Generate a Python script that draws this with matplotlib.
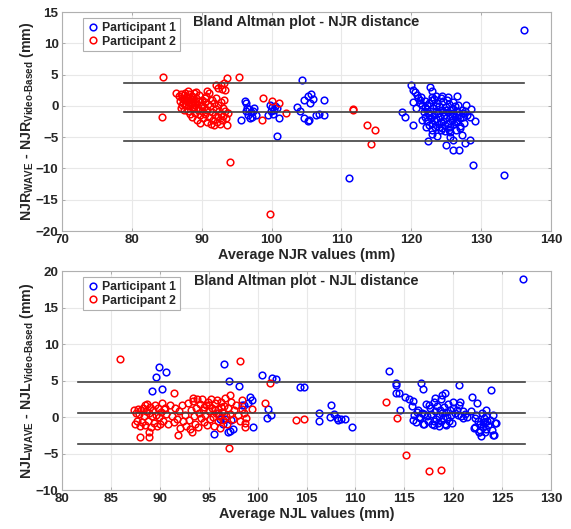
import matplotlib
matplotlib.use("Agg")
import matplotlib.pyplot as plt
import numpy as np

plt.rcParams['font.family'] = ['Liberation Sans', 'DejaVu Sans']
plt.rcParams['font.weight'] = 'bold'
plt.rcParams['mathtext.fontset'] = 'custom'
plt.rcParams['mathtext.rm'] = 'Liberation Sans:bold'
plt.rcParams['mathtext.it'] = 'Liberation Sans:bold'
plt.rcParams['mathtext.bf'] = 'Liberation Sans:bold'
plt.rcParams['text.color'] = '#262626'
plt.rcParams['axes.labelcolor'] = '#262626'
plt.rcParams['xtick.labelcolor'] = '#262626'
plt.rcParams['ytick.labelcolor'] = '#262626'

# ---------------- NJR (top) ----------------
njr_p1_x = [95.6, 96.2, 96.3, 96.5, 96.8, 97.0, 96.6, 97.2, 97.5, 97.8, 96.9, 97.3, 96.4,
            99.8, 100.0, 100.3, 100.5, 100.8, 99.5, 100.2, 101.0, 100.8, 99.9,
            104.3, 103.6, 104.0, 104.6, 105.2, 105.7, 106.0, 105.5, 104.6, 105.2, 105.4,
            106.4, 106.8, 107.5, 107.5, 111.1,
            120.0, 120.2, 120.5, 120.8, 121.0, 121.2, 121.4, 121.3, 121.6, 120.3, 120.7,
            121.9, 122.0, 122.7, 122.9, 126.6,
            121.8, 122.0, 122.2, 122.3, 122.4, 122.5, 122.6, 122.7, 122.8, 122.9, 123.0,
            123.1, 123.2, 123.3, 123.4, 123.5, 123.6, 123.7, 123.8, 123.9, 124.0, 124.1,
            124.2, 124.3, 124.4, 124.5, 124.6, 124.7, 124.8, 124.9, 125.0, 125.1, 125.2,
            125.3, 125.4, 125.5, 125.6, 125.7, 125.8, 125.9, 126.0, 126.1, 126.2, 126.3,
            126.4, 126.5, 126.6, 126.7, 126.8, 127.0, 127.2, 127.4, 123.0, 123.6, 124.4,
            125.3, 122.3, 122.5, 123.3, 124.0, 124.8, 125.6, 126.4, 127.0, 123.5, 124.6,
            125.8, 122.9, 124.2, 125.0, 126.0, 127.6, 128.0, 121.5, 122.1, 127.4,
            118.7, 119.1, 120.3, 122.4, 124.9, 126.0, 126.8, 126.0, 127.3, 127.7, 128.4,
            127.8, 127.7, 128.5, 128.4, 129.1, 128.8, 133.3, 136.1, 123.0, 123.7, 124.4,
            125.4, 125.5, 126.9]
njr_p1_y = [-2.2, 0.7, 0.4, -0.3, -0.5, -1.0, -1.4, -1.8, -0.4, -1.5, -1.9, -0.8, -0.8,
            0.1, -0.2, -0.6, 0.0, -0.4, -1.4, -1.3, -2.0, -4.8, -0.9,
            4.1, -0.2, -0.8, 0.95, 1.5, 1.9, 1.05, 0.4, -2.0, -2.4, -2.2,
            -1.45, -1.3, -1.45, 0.95, -11.5,
            3.3, 2.6, 2.2, 1.8, 1.3, 0.9, 1.4, 0.5, 0.1, 0.6, -0.3,
            -0.2, 0.8, 3.0, 2.3, 1.6,
            -1.0, -1.8, -0.5, -2.4, -1.2, 0.4, -3.0, -0.9, -1.9, 0.9, -2.7,
            -0.3, -1.5, 1.1, -3.4, -0.8, -2.1, 0.5, -1.2, -2.9, 0.0, -1.8,
            1.2, -3.8, -0.6, -2.4, 0.7, -1.4, -3.1, -0.2, -2.0, 1.0, -1.0,
            -2.7, 0.3, -1.6, -3.3, -0.5, -2.2, 0.6, -1.2, -2.9, -0.1, -1.8,
            -3.8, -0.8, -2.4, 0.2, -1.4, -2.0, -0.6, -1.2, 1.4, 1.5, 1.5,
            1.4, 0.2, -1.5, -2.2, -3.3, -4.0, -4.2, -2.6, -3.2, 0.0, -1.0,
            -1.6, -3.8, -2.6, -0.6, -0.5, -2.8, -1.5, -2.2, -3.3, -1.8,
            -1.0, -1.7, -3.1, -5.6, -6.25, -7.0, -7.0, -5.45, -4.65, -6.0, -5.45,
            0.1, -0.9, -0.55, -1.7, -2.4, -9.5, -11.1, 12.1, -4.5, -4.75, -3.6,
            -3.9, -4.9, -3.6]

njr_p2_x = [86.3, 86.8, 86.9, 87.0, 87.1, 87.2, 87.3, 87.4, 87.5, 87.6, 87.7, 87.8, 87.9,
            88.0, 88.0, 88.1, 88.2, 88.3, 88.4, 88.5, 88.6, 88.6, 88.7, 88.8, 88.9, 89.0,
            89.1, 89.2, 89.3, 89.4, 89.5, 89.6, 89.7, 89.8, 89.9, 90.0, 90.1, 90.2, 90.3,
            90.4, 90.5, 90.6, 90.7, 90.8, 90.9, 91.0, 91.1, 91.2, 91.3, 91.4, 91.5, 91.6,
            91.7, 91.8, 91.9, 92.0, 92.1, 92.2, 92.3, 92.4, 92.5, 92.6, 92.7, 92.8, 92.9,
            93.0, 93.1, 93.2, 93.4, 93.5, 93.6, 93.7,
            87.5, 88.3, 88.9, 89.5, 90.0, 89.0, 88.0, 87.2, 89.2, 90.7, 90.4,
            92.0, 92.4, 92.8, 93.2, 93.6, 93.4, 92.9,
            84.5, 84.3, 94.1, 99.8, 95.4, 98.8, 100.1, 101.0, 102.1, 98.6,
            111.6, 111.7, 113.7, 114.8, 114.2]
njr_p2_y = [2.1, 1.5, 0.8, 1.9, -0.3, 1.2, 0.4, 1.7, -0.6, 2.0, 0.9, 0.1, 1.4,
            2.3, -0.9, 0.6, 1.9, -1.3, 1.1, 0.3, -1.8, 1.6, -0.4, 0.8, 2.0, -1.1,
            0.1, 1.3, -2.2, -0.6, 0.7, 1.8, -1.5, -2.8, 0.2, -0.9, 1.0, -2.0, -0.2,
            0.6, -1.3, 1.6, -2.5, -0.6, 0.3, 2.1, -1.7, -0.1, -2.9, 0.9, -1.0, -2.2,
            0.4, -3.0, -1.4, 1.3, -0.5, -2.6, 0.1, -1.8, -0.9, -2.9, 0.6, -1.3, -2.3,
            -0.4, -1.6, 1.0, -0.8, -2.0, -3.1, -1.2,
            1.0, 0.0, -0.2, -0.4, 0.0, 0.6, 1.3, 0.2, 2.2, 2.3, 1.2,
            3.3, 2.9, 3.4, 3.6, 4.4, 2.5, 2.7,
            4.6, -1.8, -8.9, -17.3, 4.6, 1.3, 0.8, 0.4, -1.1, -2.25,
            -0.5, -0.6, -3.0, -3.9, -6.1]

njr_lines = [3.7, -1.0, -5.6]
njr_line_x = [78.9, 136.1]

# ---------------- NJL (bottom) ----------------
njl_p1_x = [89.9, 90.6, 89.6, 89.2, 90.2,
            96.6, 97.1, 98.1, 98.6, 99.0, 99.2, 99.4, 98.4,
            95.5, 97.0, 97.2, 97.5, 96.5, 96.7, 97.3, 96.2, 96.0, 99.5,
            100.4, 101.5, 101.9, 101.1, 101.0, 101.4,
            104.3, 104.7, 106.3, 106.3, 107.5, 107.8, 107.4, 108.1, 108.5, 108.2, 108.9, 109.6,
            113.4, 114.1, 114.1, 114.2, 114.5, 116.7, 116.9, 120.6, 123.9,
            114.6, 115.1, 115.5, 115.9, 116.3, 115.9, 116.9, 118.0, 118.5, 119.3,
            117.5, 118.1, 118.9, 119.2, 120.0, 120.7, 120.5, 121.0, 121.9, 122.4,
            121.8, 122.2, 122.1, 122.6, 122.8, 124.2, 124.4, 122.2, 122.7, 123.4,
            124.3, 124.1, 123.4, 123.5, 123.0, 127.1,
            115.8, 116.0, 116.2, 116.4, 116.6, 116.8, 117.0, 117.2, 117.3, 117.4, 117.6,
            117.7, 117.8, 118.0, 118.1, 118.2, 118.3, 118.4, 118.5, 118.6, 118.7, 118.8,
            118.9, 119.0, 119.1, 119.2, 119.3, 119.4, 119.5, 119.6, 119.7, 119.8, 120.0,
            120.2, 120.4, 120.6, 120.8, 121.0, 121.2, 121.4, 119.9, 118.0, 117.0, 116.5,
            122.3, 122.5, 122.7, 122.9, 123.0, 123.1, 123.3, 123.4, 123.6, 123.8, 124.0,
            124.1, 123.2, 122.6]
njl_p1_y = [6.8, 6.2, 5.5, 3.6, 3.9,
            7.25, 5.0, 4.25, 1.7, 1.9, 2.8, 2.3, 1.6,
            -2.3, -2.1, -1.9, -1.6, -1.0, -0.3, -0.4, -0.3, 0.6, -1.4,
            5.75, 5.3, 5.2, 1.1, -0.2, 0.3,
            4.05, 4.15, 0.6, -0.55, 1.6, 0.4, 0.05, -0.1, -0.25, -0.4, -0.3, -1.3,
            6.3, 4.7, 4.4, 3.3, 3.3, 4.7, 3.8, 4.4, 3.7,
            1.0, 2.8, 2.4, 2.2, 0.7, -0.4, -1.0, -1.1, -1.2, -1.1,
            1.6, 2.55, 3.0, 3.3, 2.1, 2.1, 0.3, -0.1, 2.7, 1.9,
            0.8, -0.2, -1.55, -2.1, -2.6, -2.4, -0.8, -1.4, -1.8, -1.6,
            -0.8, -2.5, 0.1, -0.5, -0.7, 18.9,
            1.5, 0.3, -0.7, 1.0, -0.2, 0.6, -0.9, 1.8, 0.1, -0.5, 1.2,
            0.4, -1.0, 2.0, 0.8, -0.3, 1.5, -0.8, 0.2, 1.0, -0.6, 2.4,
            0.5, -0.2, 1.4, -1.0, 0.7, 0.0, 1.8, -0.5, 1.0, 0.3, 1.3,
            0.5, 0.9, 1.6, 0.2, 0.8, 0.4, 0.0, -0.8, -0.5, 0.4, 0.0,
            0.3, -0.5, -1.0, 0.5, -1.4, -0.2, -2.0, 0.9, -1.1, -0.4, -1.8,
            0.3, -0.7, -2.0]

njl_p2_x = [87.4, 87.5, 87.6, 87.7, 87.8, 87.9, 88.0, 88.1, 88.2, 88.3, 88.4, 88.5, 88.6,
            88.7, 88.8, 88.9, 89.0, 89.1, 89.2, 89.3, 89.4, 89.5, 89.6, 89.7, 89.8, 89.9,
            90.0, 90.1, 90.2, 90.3, 90.4, 90.6, 90.8, 91.0, 91.2, 91.4, 91.6, 91.8, 92.0,
            92.1, 92.3, 92.4, 92.6, 92.7, 92.9, 93.0, 93.1, 93.2, 93.3, 93.4, 93.5, 93.6,
            93.7, 93.8, 93.9, 94.0, 94.1, 94.2, 94.3, 94.4, 94.5, 94.6, 94.7, 94.8, 94.9,
            95.0, 95.1, 95.2, 95.3, 95.4, 95.5, 95.6, 95.7, 95.8, 95.9, 96.0, 96.1, 96.2,
            96.3, 96.4, 96.5, 96.6, 96.7, 96.8, 96.9, 97.0, 97.2, 97.3, 97.5, 97.6, 97.8,
            98.0, 98.2, 98.4, 98.6, 98.8, 95.0, 95.6, 96.3, 94.5, 88.5, 90.5,
            85.9, 88.0, 88.9, 88.9, 91.5, 91.9, 93.4, 97.1, 98.2, 97.2, 98.4, 99.4,
            98.7, 98.7, 100.8, 101.3, 103.9, 104.7, 113.1, 114.3, 115.2, 117.5, 118.8]
njl_p2_y = [1.0, -1.0, 0.6, -0.6, 1.1, 0.4, -1.2, 0.9, -0.7, 1.3, 0.2, -1.1, 0.8,
            1.8, -0.5, 0.5, 1.4, -1.3, 0.1, 0.9, -0.8, 1.7, 0.3, -1.2, 1.2, 0.0,
            -0.9, 0.7, 1.9, -0.5, 1.1, 0.4, -1.0, 1.7, 0.2, -0.7, 1.2, -0.3, 0.8,
            -1.5, 1.6, -0.6, 0.3, -1.2, 1.9, -0.4, -1.7, 0.9, -2.0, 2.2, 0.1, -0.9,
            1.3, 2.5, -1.4, 0.6, 1.8, -0.2, 2.4, 1.0, -0.7, 0.3, 1.6, -1.1, 2.0,
            0.8, -0.3, 2.5, 1.3, 0.0, -1.2, 1.9, 0.5, 2.3, -0.6, 1.1, 0.2, -1.5,
            2.0, 0.7, -0.4, 1.5, 2.6, 0.1, -0.9, 1.2, 0.4, 2.1, -0.3, 0.9, 1.6,
            0.3, -0.6, 1.1, 0.5, -0.1, 1.7, 1.0, 1.4, 1.4, 1.6, 1.2,
            8.0, -2.8, -2.8, -2.0, 3.3, -2.4, 2.6, -4.3, 7.7, 3.0, 2.3, 1.05,
            -0.8, -1.4, 1.9, 4.7, -0.4, -0.3, 2.0, -0.2, -5.2, -7.35, -7.2]

njl_lines = [4.75, 0.5, -3.65]
njl_line_x = [81.6, 127.3]

fig = plt.figure(figsize=(5.71, 5.29), dpi=100)
ax1 = fig.add_axes([0.1086, 0.5633, 0.8564, 0.414])
ax2 = fig.add_axes([0.1086, 0.0737, 0.8564, 0.414])


def style(ax, xlim, ylim, xt, yt):
    ax.set_xlim(xlim)
    ax.set_ylim(ylim)
    ax.set_xticks(xt)
    ax.set_yticks(yt)
    ax.grid(True, color='#e8e8e8', lw=0.8)
    ax.set_axisbelow(True)
    ax.tick_params(direction='in', length=2.5, width=0.6, color='#a0a0a0',
                   labelsize=9.6, top=True, right=True, pad=2.5)
    for s in ax.spines.values():
        s.set_color('#b0b0b0')
        s.set_linewidth(0.8)


for ax, p1x, p1y, p2x, p2y, lines, lx, name in [
        (ax1, njr_p1_x, njr_p1_y, njr_p2_x, njr_p2_y, njr_lines, njr_line_x, 'NJR'),
        (ax2, njl_p1_x, njl_p1_y, njl_p2_x, njl_p2_y, njl_lines, njl_line_x, 'NJL')]:
    ax.plot(p1x, p1y, 'o', mfc='none', mec='blue', ms=4.8, mew=1.1, label='Participant 1')
    ax.plot(p2x, p2y, 'o', mfc='none', mec='red', ms=4.8, mew=1.1, label='Participant 2')
    for v in lines:
        ax.plot(lx, [v, v], color='#404040', lw=1.2)
    ax.text(0.5, 0.985, f'Bland Altman plot - {name} distance', transform=ax.transAxes,
            ha='center', va='top', fontsize=10.4, fontweight='bold')
    ax.set_xlabel(f'Average {name} values (mm)', fontsize=10.4, fontweight='bold', labelpad=1)
    ax.set_ylabel(name + r'$_{WAVE}$ - ' + name + r'$_{Video\text{-}Based}$ (mm)',
                  fontsize=10.2, fontweight='bold', labelpad=0)
    leg = ax.legend(loc='upper left', bbox_to_anchor=(0.03, 1.0), fontsize=8.8,
                    handletextpad=0.3, handlelength=1.0, borderpad=0.3,
                    labelspacing=0.15, fancybox=False, framealpha=1)
    leg.get_frame().set_edgecolor('#b0b0b0')
    leg.get_frame().set_linewidth(0.8)

style(ax1, (70, 140), (-20, 15), range(70, 141, 10), range(-20, 16, 5))
style(ax2, (80, 130), (-10, 20), range(80, 131, 5), range(-10, 21, 5))

fig.savefig('out.png', dpi=100)
